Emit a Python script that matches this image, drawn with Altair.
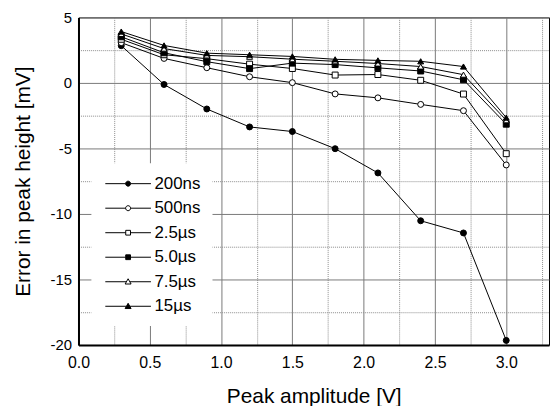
import altair as alt
import pandas as pd

# ---- data ----
amplitude = [0.3, 0.6, 0.9, 1.2, 1.5, 1.8, 2.1, 2.4, 2.7, 3.0]
series_names = ["200ns", "500ns", "2.5µs", "5.0µs", "7.5µs", "15µs"]
err_200ns = [2.84, -0.12, -1.99, -3.36, -3.71, -5.02, -6.87, -10.52, -11.45, -19.65]
err_500ns = [3.07, 1.87, 1.16, 0.47, 0.02, -0.84, -1.14, -1.64, -2.12, -6.26]
err_2_5us = [3.33, 2.15, 1.85, 1.43, 1.10, 0.60, 0.64, 0.20, -0.85, -5.40]
err_5_0us = [3.52, 2.30, 1.62, 1.09, 1.51, 1.40, 1.15, 0.91, 0.24, -3.15]
err_7_5us = [3.74, 2.62, 2.10, 2.00, 1.81, 1.65, 1.48, 1.25, 0.63, -2.85]
err_15us = [3.92, 2.86, 2.27, 2.15, 2.02, 1.80, 1.72, 1.65, 1.25, -2.65]

x_ticks = [i * 0.25 for i in range(14)]          # 0 .. 3.25
y_ticks = [-20 + i * 2.5 for i in range(11)]      # -20 .. 5

# ---- styling ----
marker_shapes = ["circle", "circle", "square", "square", "triangle-up", "triangle-up"]
marker_fills = ["black", "white", "white", "black", "white", "black"]
marker_strokes = ["black"] * 6

# legend glyphs: line with the marker in the middle (custom SVG paths)
legend_paths = [
    "M-3.83,0L-0.42,0M0.42,0L3.83,0M0.42,0A0.42,0.42,0,1,1,-0.42,0A0.42,0.42,0,1,1,0.42,0Z",
    "M-3.83,0L-0.42,0M0.42,0L3.83,0M0.42,0A0.42,0.42,0,1,1,-0.42,0A0.42,0.42,0,1,1,0.42,0Z",
    "M-3.83,0L-0.4,0M0.4,0L3.83,0M-0.4,-0.4L0.4,-0.4L0.4,0.4L-0.4,0.4Z",
    "M-3.83,0L-0.4,0M0.4,0L3.83,0M-0.4,-0.4L0.4,-0.4L0.4,0.4L-0.4,0.4Z",
    "M-3.83,0L-0.3,0M0.3,0L3.83,0M0,-0.5L0.5,0.38L-0.5,0.38Z",
    "M-3.83,0L-0.3,0M0.3,0L3.83,0M0,-0.5L0.5,0.38L-0.5,0.38Z",
]

all_series = [err_200ns, err_500ns, err_2_5us, err_5_0us, err_7_5us, err_15us]
rows = []
for name, vals in zip(series_names, all_series):
    for xv, yv in zip(amplitude, vals):
        rows.append({"x": xv, "y": yv, "series": name})
df = pd.DataFrame(rows)

FONT = "Liberation Sans"

x_enc = alt.X(
    "x:Q",
    scale=alt.Scale(domain=[0, 3.3], nice=False, zero=False),
    axis=alt.Axis(
        title="Peak amplitude [V]",
        values=x_ticks,
        labelFlush=False,
        labelExpr="datum.value % 0.5 === 0 ? format(datum.value, '.1f') : ''",
        gridDash={"condition": {"test": "datum.value % 0.5 === 0", "value": []}, "value": [1, 1]},
        gridColor={"condition": {"test": "datum.value % 0.5 === 0", "value": "#7a7a7a"}, "value": "#8c8c8c"},
    ),
)
y_enc = alt.Y(
    "y:Q",
    scale=alt.Scale(domain=[-20, 5], nice=False, zero=False),
    axis=alt.Axis(
        title="Error in peak height [mV]",
        values=y_ticks,
        labelFlush=False,
        labelExpr="datum.value % 5 === 0 ? '' + datum.value : ''",
        gridDash={"condition": {"test": "datum.value % 5 === 0", "value": []}, "value": [1, 1]},
        gridColor={"condition": {"test": "datum.value % 5 === 0", "value": "#7a7a7a"}, "value": "#8c8c8c"},
    ),
)

base = alt.Chart(df)

lines = base.mark_line(color="black", strokeWidth=1).encode(
    x=x_enc, y=y_enc, detail="series:N", order="x:Q"
)

points = base.mark_point(stroke="black", strokeWidth=1, opacity=1, size=36).encode(
    x=x_enc,
    y=y_enc,
    shape=alt.Shape("series:N", scale=alt.Scale(domain=series_names, range=marker_shapes), legend=None),
    fill=alt.Fill("series:N", scale=alt.Scale(domain=series_names, range=marker_fills), legend=None),
)

legend = alt.Legend(
    title=None,
    orient="none",
    legendX=13,
    legendY=147,
    fillColor="white",
    padding=12,
    symbolSize=144,
    symbolStrokeColor="black",
    symbolStrokeWidth=1,
    symbolOffset=16.5,
    labelOffset=18,
    labelFont=FONT,
    labelFontSize=17,
    labelColor="black",
    rowPadding=6.7,
)

legend_layer = base.transform_filter("datum.x > 100").mark_point(
    strokeWidth=1, opacity=1
).encode(
    x=x_enc,
    y=y_enc,
    shape=alt.Shape("series:N", scale=alt.Scale(domain=series_names, range=legend_paths), legend=legend),
    fill=alt.Fill("series:N", scale=alt.Scale(domain=series_names, range=marker_fills), legend=legend),
    stroke=alt.Stroke("series:N", scale=alt.Scale(domain=series_names, range=marker_strokes), legend=legend),
)

chart = (
    alt.layer(lines, points, legend_layer)
    .resolve_scale(shape="independent", fill="independent", stroke="independent")
    .properties(
        width=474,
        height=330,
        autosize=alt.AutoSizeParams(type="none"),
        padding={"left": 71, "top": 8, "right": 2, "bottom": 60},
    )
    .configure_view(stroke="black", strokeWidth=1)
    .configure_axis(
        labelFont=FONT,
        titleFont=FONT,
        titleFontWeight="normal",
        labelColor="black",
        titleColor="black",
        domainColor="black",
        domainWidth=2,
        ticks=False,
        tickSize=0,
        grid=True,
        gridWidth=1,
        gridOpacity=1,
    )
    .configure_axisX(labelPadding=10, titlePadding=15, labelFontSize=16, titleFontSize=21)
    .configure_axisY(labelPadding=7, titlePadding=17, labelFontSize=15, titleFontSize=21)
)

chart.save("out.html", embed_options={"renderer": "svg", "actions": False})
